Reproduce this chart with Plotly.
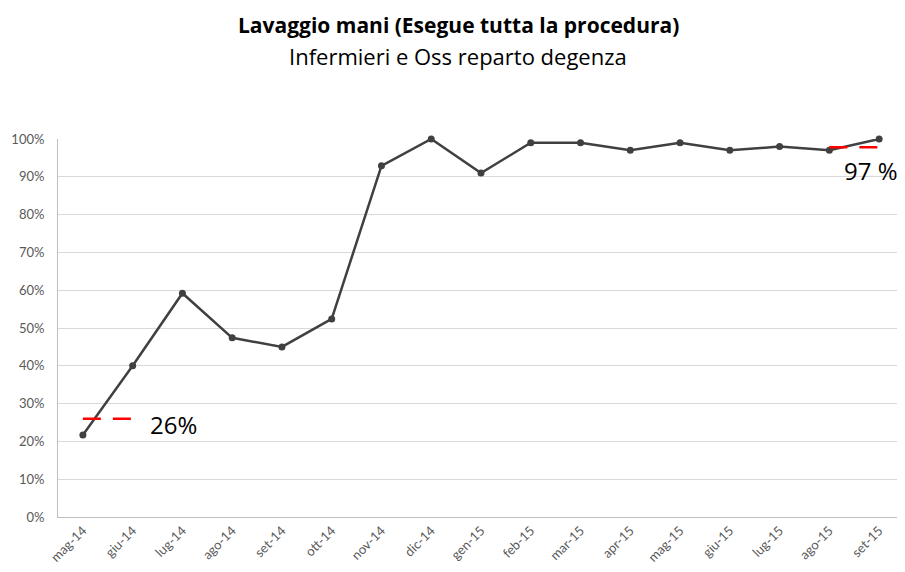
import plotly.graph_objects as go

months = ["mag-14", "giu-14", "lug-14", "ago-14", "set-14", "ott-14", "nov-14", "dic-14",
          "gen-15", "feb-15", "mar-15", "apr-15", "mag-15", "giu-15", "lug-15", "ago-15", "set-15"]
values = [21.7, 40, 59.2, 47.4, 45, 52.4, 92.9, 100, 91, 99, 99, 97, 99, 97, 98, 97, 100]

target_start_months = ["mag-14", "giu-14"]
target_start_value = 26
target_end_months = ["ago-15", "set-15"]
target_end_value = 97.8
target_start_label = "26%"
target_end_label = "97 %"

yticks = [0, 10, 20, 30, 40, 50, 60, 70, 80, 90, 100]
ytick_text = [f"{v}%" for v in yticks]

title_text = "Lavaggio mani (Esegue tutta la procedura)"
subtitle_text = "Infermieri e Oss reparto degenza"

fig = go.Figure()
fig.add_trace(go.Scatter(x=months, y=values, mode="lines+markers",
                         line=dict(color="#404040", width=2.5),
                         marker=dict(color="#404040", size=7), showlegend=False,
                         cliponaxis=False))
for xs, yv in [(target_start_months, target_start_value), (target_end_months, target_end_value)]:
    fig.add_trace(go.Scatter(x=xs, y=[yv, yv], mode="lines",
                             line=dict(color="#ff0000", width=2.5, dash="18px,12px"),
                             showlegend=False))

fig.add_annotation(x=1.3, y=24.6, xref="x", yref="y", text=target_start_label, showarrow=False,
                   xanchor="left", yanchor="middle",
                   font=dict(family="Open Sans", size=24, color="#000000"))
fig.add_annotation(x=15.25, y=91.8, xref="x", yref="y", text=target_end_label, showarrow=False,
                   xanchor="left", yanchor="middle",
                   font=dict(family="Open Sans", size=24, color="#000000"))

# plot area height 378 px
fig.add_annotation(x=0.473, y=(517 - 25) / 378, xref="paper", yref="paper",
                   text="<b>" + title_text + "</b>", showarrow=False,
                   xanchor="center", yanchor="middle",
                   font=dict(family="Open Sans", size=21, color="#000000"))
fig.add_annotation(x=0.473, y=(517 - 56) / 378, xref="paper", yref="paper",
                   text=subtitle_text, showarrow=False,
                   xanchor="center", yanchor="middle",
                   font=dict(family="Open Sans", size=22, color="#000000"))

fig.update_layout(
    width=897, height=564,
    margin=dict(l=50, r=1, t=131, b=55),
    paper_bgcolor="white", plot_bgcolor="white",
    xaxis=dict(type="category", tickangle=-45, showgrid=False, automargin=False,
               showline=True, linecolor="#bfbfbf", linewidth=1,
               tickfont=dict(family="Lato", size=13, color="#595959"),
               range=[-0.5, 16.5], ticks=""),
    yaxis=dict(range=[0, 100], tickvals=yticks, ticktext=ytick_text, automargin=False,
               showgrid=True, gridcolor="#d9d9d9", gridwidth=1,
               showline=True, linecolor="#bfbfbf", linewidth=1,
               zeroline=False, ticklabelstandoff=10,
               tickfont=dict(family="Lato", size=13, color="#595959")),
)
fig.write_html("out.html")
